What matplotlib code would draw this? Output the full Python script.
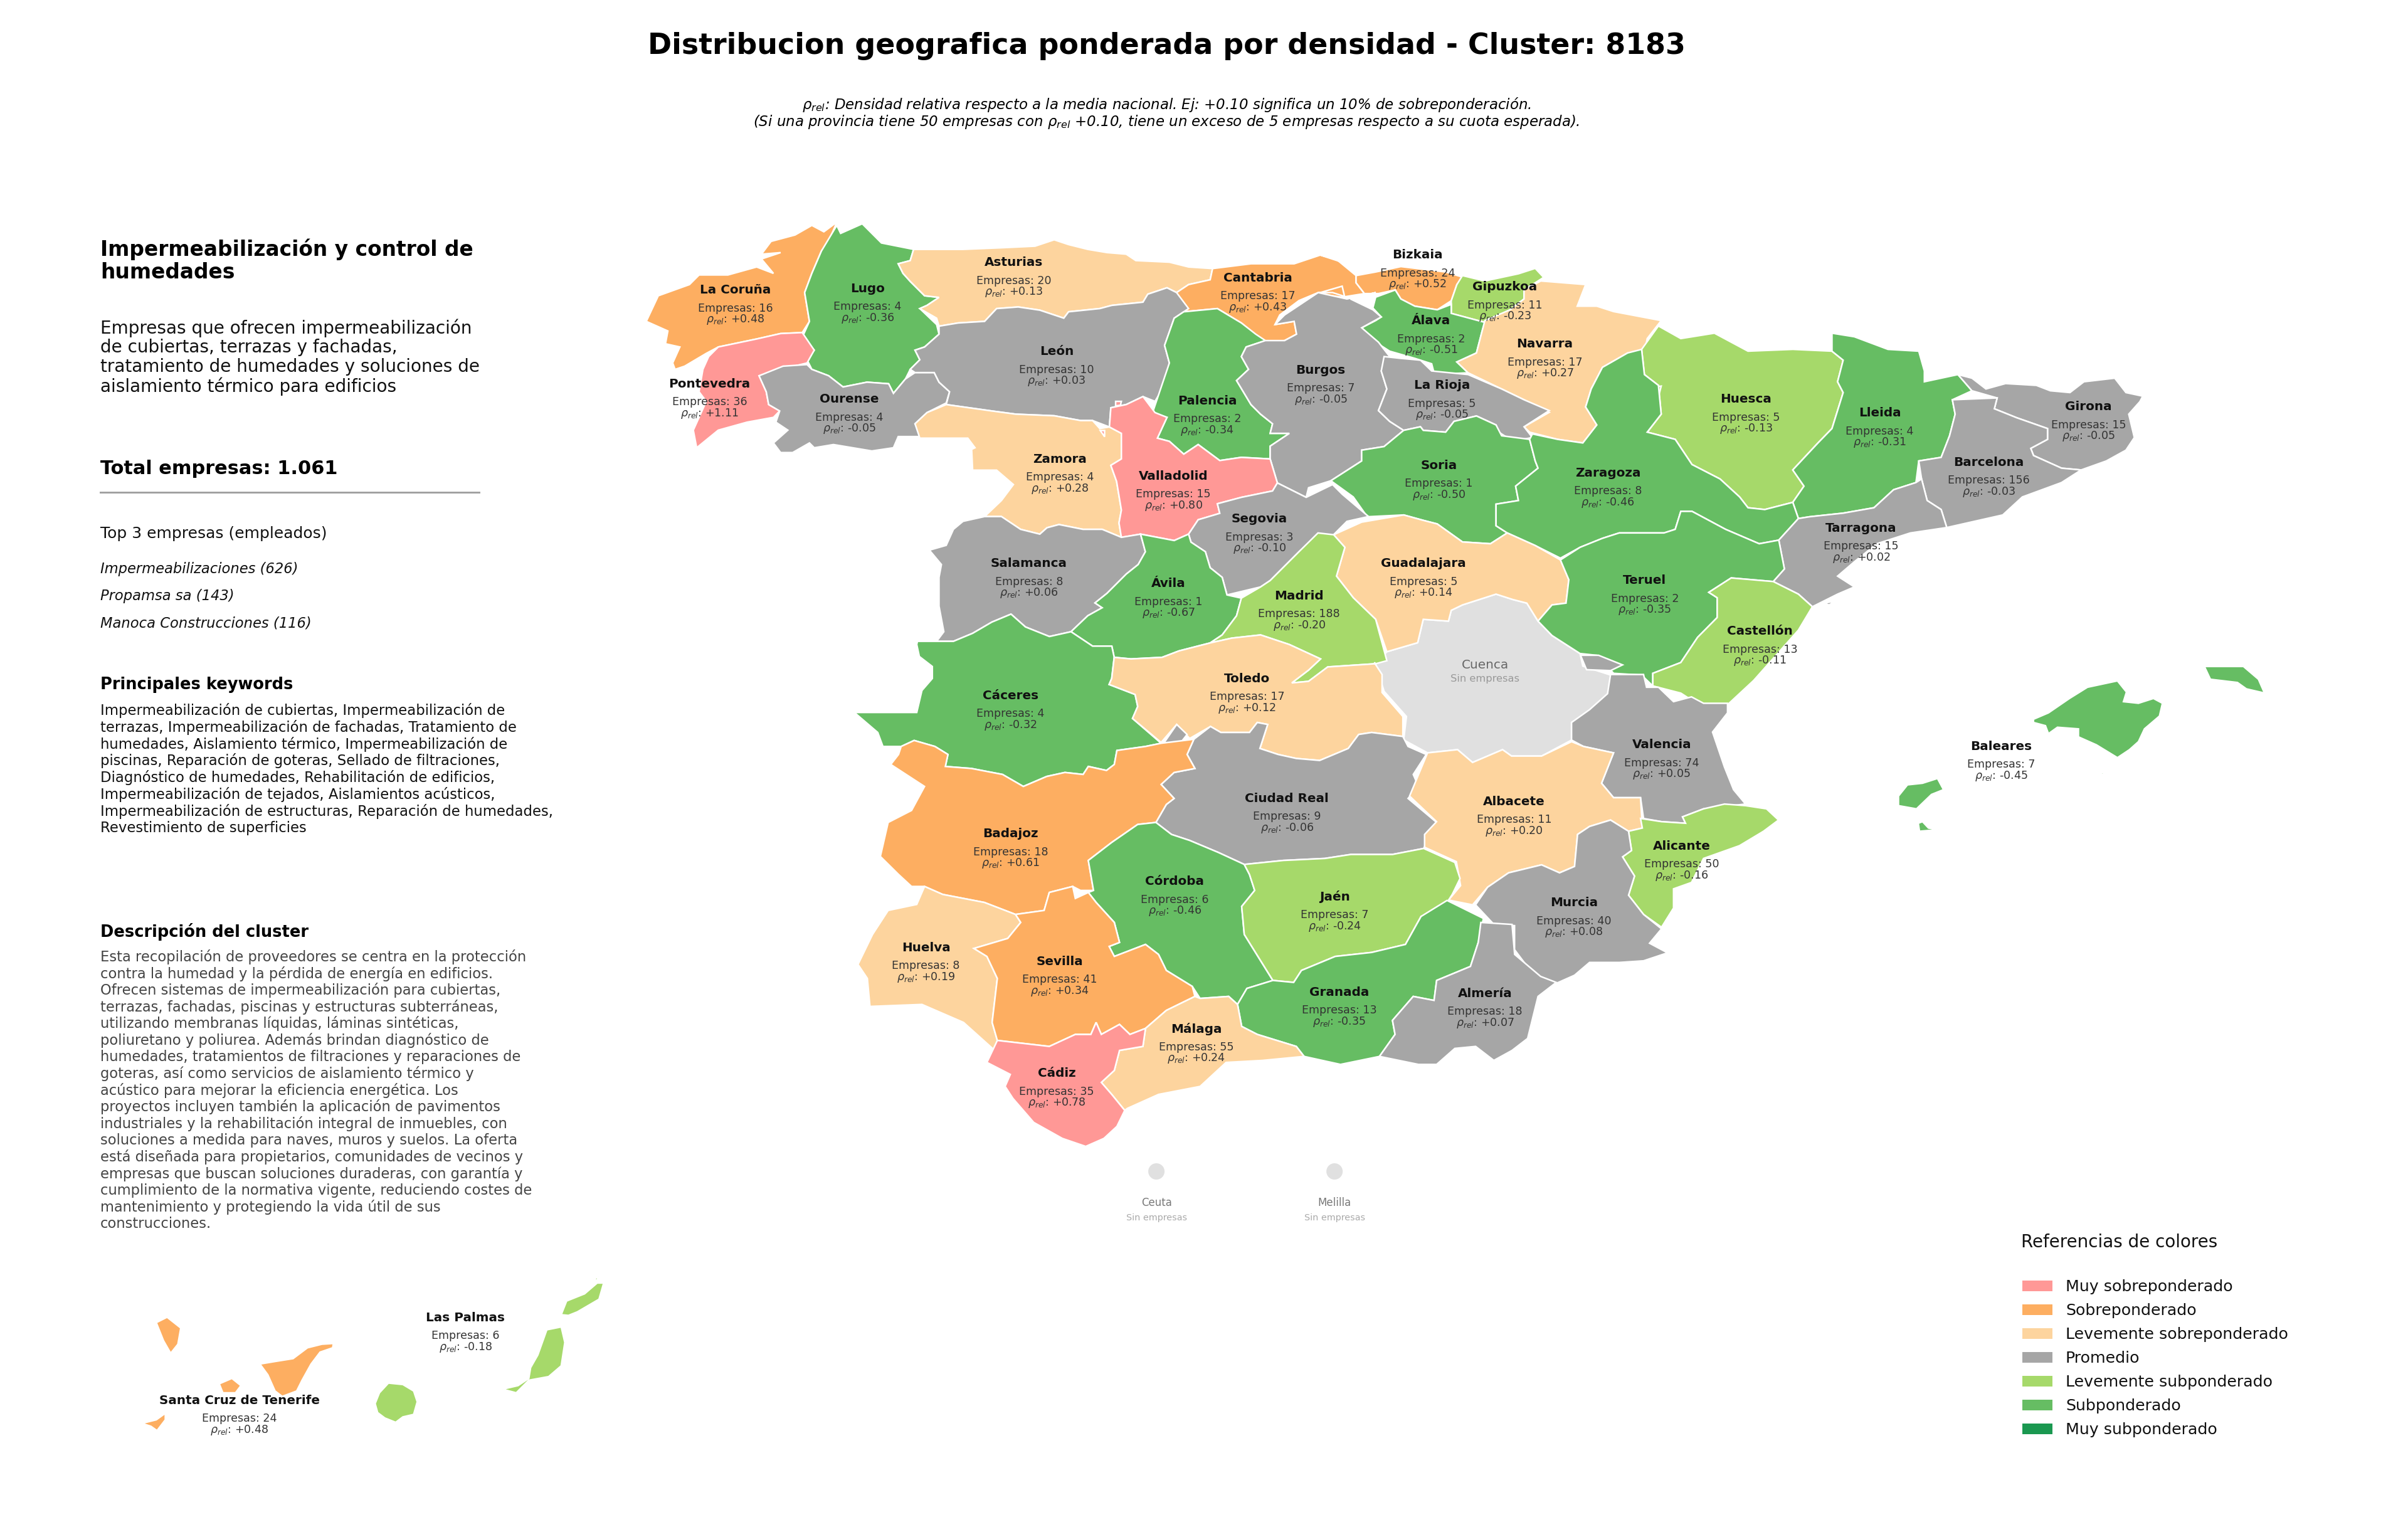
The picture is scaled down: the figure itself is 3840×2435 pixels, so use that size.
import numpy as np
import matplotlib
matplotlib.use("Agg")
import matplotlib.pyplot as plt
from matplotlib.patches import Circle, Rectangle

# digitised sheets: x0, y0, x scale, y scale
SHEETS = {
    "A": (1000, 340, 1200 / 1568, 800 / 1568),
    "B": (2100, 340, 1400 / 1568, 900 / 1568),
    "C": (1350, 1000, 1300 / 1568, 1000 / 1568),
    "D": (2200, 1000, 1500 / 1568, 800 / 1568),
    "E": (100, 1450, 900 / 1568, 900 / 1568),
}

provinces = ["La Coruña", "Lugo", "Asturias", "Cantabria", "Bizkaia", "Gipuzkoa", "Álava", "Navarra",
             "Pontevedra", "Ourense", "León", "Palencia", "Burgos", "La Rioja", "Huesca", "Lleida",
             "Girona", "Barcelona", "Zamora", "Valladolid", "Soria", "Zaragoza", "Tarragona", "Segovia",
             "Salamanca", "Guadalajara", "Ávila", "Madrid", "Teruel", "Castellón", "Cáceres", "Toledo",
             "Valencia", "Baleares", "Ciudad Real", "Albacete", "Alicante", "Badajoz", "Córdoba", "Jaén",
             "Murcia", "Huelva", "Sevilla", "Granada", "Almería", "Málaga", "Cádiz", "Las Palmas",
             "Santa Cruz de Tenerife"]
empresas = [16, 4, 20, 17, 24, 11, 2, 17, 36, 4, 10, 2, 7, 5, 5, 4, 15, 156, 4, 15, 1, 8, 15, 3, 8, 5, 1, 188,
            2, 13, 4, 17, 74, 7, 9, 11, 50, 18, 6, 7, 40, 8, 41, 13, 18, 55, 35, 6, 24]
rho_rel = [0.48, -0.36, 0.13, 0.43, 0.52, -0.23, -0.51, 0.27, 1.11, -0.05, 0.03, -0.34, -0.05, -0.05, -0.13,
           -0.31, -0.05, -0.03, 0.28, 0.80, -0.50, -0.46, 0.02, -0.10, 0.06, 0.14, -0.67, -0.20, -0.35, -0.11,
           -0.32, 0.12, 0.05, -0.45, -0.06, 0.20, -0.16, 0.61, -0.46, -0.24, 0.08, 0.19, 0.34, -0.35, 0.07,
           0.24, 0.78, -0.18, 0.48]
name_x = [479, 565, 660, 819, 923, 980, 932, 1006, 462, 553, 688, 786, 860, 939, 1137, 1224, 1360, 1295, 690,
          764, 937, 1047, 1212, 820, 670, 927, 761, 846, 1071, 1146, 658, 812, 1082, 1303, 838, 986, 1095, 658,
          765, 869, 1025, 603, 690, 872, 967, 779, 688, 303, 156]
name_y = [189, 188, 171, 181, 166, 187, 209, 224, 250, 260, 229, 261, 241, 251, 260, 269, 265, 301, 299, 310,
          303, 308, 344, 338, 367, 367, 380, 388, 378, 411, 453, 442, 485, 486, 520, 522, 551, 543, 574, 584,
          588, 617, 626, 646, 647, 670, 699, 858, 912]

legend_labels = ["Muy sobreponderado", "Sobreponderado", "Levemente sobreponderado", "Promedio",
                 "Levemente subponderado", "Subponderado", "Muy subponderado"]
legend_colors = ["#FF9896", "#FDAE61", "#FDD49E", "#A6A6A6", "#A6D96A", "#66BD63", "#1A9850"]

top_companies = ["Impermeabilizaciones (626)", "Propamsa sa (143)", "Manoca Construcciones (116)"]
desc_lines = ["Empresas que ofrecen impermeabilización", "de cubiertas, terrazas y fachadas,",
              "tratamiento de humedades y soluciones de", "aislamiento térmico para edificios"]
keyword_lines = ["Impermeabilización de cubiertas, Impermeabilización de",
                 "terrazas, Impermeabilización de fachadas, Tratamiento de",
                 "humedades, Aislamiento térmico, Impermeabilización de",
                 "piscinas, Reparación de goteras, Sellado de filtraciones,",
                 "Diagnóstico de humedades, Rehabilitación de edificios,",
                 "Impermeabilización de tejados, Aislamientos acústicos,",
                 "Impermeabilización de estructuras, Reparación de humedades,",
                 "Revestimiento de superficies"]
cluster_lines = ["Esta recopilación de proveedores se centra en la protección",
                 "contra la humedad y la pérdida de energía en edificios.",
                 "Ofrecen sistemas de impermeabilización para cubiertas,",
                 "terrazas, fachadas, piscinas y estructuras subterráneas,",
                 "utilizando membranas líquidas, láminas sintéticas,",
                 "poliuretano y poliurea. Además brindan diagnóstico de",
                 "humedades, tratamientos de filtraciones y reparaciones de",
                 "goteras, así como servicios de aislamiento térmico y",
                 "acústico para mejorar la eficiencia energética. Los",
                 "proyectos incluyen también la aplicación de pavimentos",
                 "industriales y la rehabilitación integral de inmuebles, con",
                 "soluciones a medida para naves, muros y suelos. La oferta",
                 "está diseñada para propietarios, comunidades de vecinos y",
                 "empresas que buscan soluciones duraderas, con garantía y",
                 "cumplimiento de la normativa vigente, reduciendo costes de",
                 "mantenimiento y protegiendo la vida útil de sus",
                 "construcciones."]

# province outlines, each part is a run of (sheet, points)
outlines = {
    "La Coruña": [[("A", [(437,30),(420,90),(405,120),(385,190),(370,250),(380,340),(365,375),(320,378),(270,395),(190,420),(165,440),(120,480),(100,490),(95,470),(110,420),(80,410),(85,370),(40,340),(65,260),(130,225),(150,195),(210,195),(270,170),(305,190),(280,145),(320,125),(280,130),(300,90),(350,70),(385,40),(410,60)])]],
    "Lugo": [[("A", [(437,40),(445,65),(490,35),(530,95),(597,115),(590,150),(565,160),(575,190),(590,215),(620,260),(650,265),(625,290),(610,300),(645,350),(650,380),(620,420),(600,430),(610,460),(590,490),(580,520),(555,565),(545,535),(500,530),(450,545),(420,510),(385,490),(375,460),(390,430),(365,390),(380,340),(370,250),(385,190),(405,120)])]],
    "Pontevedra": [[("A", [(365,375),(390,430),(375,470),(320,490),(275,510),(290,560),(295,600),(318,620),(305,640),(250,655),(190,680),(145,735),(138,680),(150,640),(165,590),(150,560),(158,490),(170,450),(190,420),(270,395),(320,378)])]],
    "Ourense": [[("A", [(275,510),(325,480),(375,475),(385,490),(420,510),(450,545),(500,530),(545,535),(555,565),(580,520),(600,500),(640,500),(650,530),(672,560),(665,595),(625,625),(600,660),(612,700),(565,700),(555,735),(510,745),(490,740),(430,725),(390,735),(380,720),(345,750),(320,750),(305,720),(335,680),(310,655),(318,620),(295,600),(290,560)])]],
    "Asturias": [[("A", [(597,115),(700,115),(780,110),(850,105),(890,85),(920,100),(960,115),(1000,125),(1040,130),(1060,150),(1130,155),(1170,170),(1220,175),(1215,210),(1170,225),(1145,250),(1125,235),(1085,255),(1075,280),(1010,290),(985,300),(920,310),(910,330),(860,305),(815,295),(770,300),(745,340),(690,345),(650,355),(645,330),(610,300),(625,290),(650,265),(620,260),(590,215),(575,190),(565,160),(590,150)])]],
    "León": [[("A", [(650,355),(690,345),(745,340),(770,300),(815,295),(860,305),(910,330),(920,310),(985,300),(1010,290),(1075,280),(1085,255),(1125,235),(1145,250),(1170,300),(1140,330),(1120,415),(1130,470),(1120,540),(1100,590),(1075,575),(1040,600),(1008,610),(1005,670),(970,650),(945,650),(890,635),(810,630),(760,620),(665,600),(672,560),(650,530),(640,500),(600,500),(590,490),(610,460),(600,430),(620,420),(650,380)])]],
    "Cantabria": [[("A", [(1220,175),(1300,160),(1390,160),(1450,130),(1500,160)]), ("B", [(0,115),(35,130),(70,175),(70,195),(85,225),(45,235),(0,225)]), ("A", [(1490,230),(1495,262),(1470,250),(1440,250),(1400,275),(1360,320),(1350,350),(1390,340),(1395,380),(1370,400),(1320,405),(1300,370),(1280,345),(1230,300),(1160,310),(1145,250),(1170,225),(1215,210)])]],
    "Palencia": [[("A", [(1160,310),(1230,300),(1280,345),(1310,380),(1330,400),(1290,420),(1280,450),(1295,490),(1270,525),(1300,600),(1320,630),(1345,660),(1340,690),(1380,690),(1340,730),(1340,770),(1280,765),(1235,775),(1190,725),(1160,755),(1130,715),(1105,705),(1125,640),(1095,625),(1130,470),(1120,415),(1140,330)])]],
    "Burgos": [[("A", [(1290,420),(1330,400),(1370,400),(1395,380),(1390,340),(1350,350),(1370,320),(1440,250),(1500,270),(1560,250)]), ("B", [(60,240),(100,270),(115,290),(80,320),(110,360),(130,400),(115,440),(125,490),(110,550),(130,580),(155,605),(120,650),(80,660),(80,690),(25,745)]), ("A", [(1420,860),(1415,890),(1355,845),(1340,770),(1340,730),(1380,690),(1340,690),(1345,660),(1320,630),(1300,600),(1270,525),(1295,490),(1280,450)])]],
    "Zamora": [[("A", [(665,600),(760,620),(810,630),(890,635),(945,650),(970,650),(985,675),(1005,670),(1030,690),(1030,770),(1008,790),(1020,840),(1030,930),(1025,970),(1030,1015),(990,990),(950,990),(900,975),(875,985),(860,1005),(820,990),(780,950),(745,950),(780,900),(805,850),(770,805),(720,805),(718,740),(725,735),(710,705),(610,705),(600,660),(625,625)])]],
    "Valladolid": [[("A", [(1008,610),(1040,600),(1075,575),(1100,625),(1125,640),(1105,705),(1130,715),(1160,755),(1190,725),(1235,775),(1280,765),(1340,770),(1355,845),(1345,870),(1280,890),(1230,910),(1235,940),(1190,960),(1170,1005),(1140,1025),(1070,1005),(1030,1015),(1025,970),(1030,930),(1020,840),(1008,790),(1030,770),(1030,690),(1005,670)])],
                   [("A", [(1018,590),(1030,590),(1028,602),(1018,604)])],
                   [("A", [(985,680),(995,680),(995,700)])]],
    "Segovia": [[("A", [(1355,845),(1415,890),(1470,850),(1490,880),(1545,950),(1500,965),(1470,1010),(1440,1005),(1400,1060),(1340,1150),(1320,1170),(1250,1195),(1240,1140),(1215,1110),(1205,1060),(1175,1030),(1170,1005),(1190,960),(1235,940),(1230,910),(1280,890),(1345,870)])]],
    "Salamanca": [[("A", [(745,950),(780,950),(820,990),(860,1005),(875,985),(900,975),(950,990),(990,990),(1030,1015),(1070,1005),(1080,1060),(1065,1100),(1040,1130),(1000,1190),(975,1220),(990,1235),(960,1260),(925,1310),(880,1325),(830,1295),(800,1255),(760,1280),(720,1315),(680,1340),(645,1340),(660,1310),(650,1230),(650,1140),(655,1100),(630,1055),(665,1040),(680,990),(700,965)])]],
    "Ávila": [[("A", [(1070,1005),(1140,1025),(1170,1005),(1175,1030),(1205,1060),(1215,1110),(1240,1140),(1250,1195),(1280,1205),(1270,1260),(1240,1320),(1215,1345),(1150,1370),(1115,1390),(1050,1395),(1015,1390),(1010,1355),(970,1355),(925,1310),(960,1260),(990,1235),(975,1220),(1000,1190),(1040,1130),(1065,1100),(1080,1060)])]],
    "Madrid": [[("B", [(2,890),(30,895),(50,930),(35,1010),(65,1070),(105,1130),(125,1245)]), ("A", [(1560,1410),(1460,1420),(1420,1465),(1385,1470),(1420,1430),(1445,1395),(1380,1350),(1320,1320),(1260,1330),(1215,1345),(1240,1320),(1270,1260),(1280,1205),(1320,1170),(1340,1150),(1400,1060)])]],
    "Cáceres": [[("A", [(605,1340),(645,1340),(680,1340),(720,1315),(760,1280),(800,1255),(830,1295),(880,1325),(925,1310),(970,1355),(1010,1355),(1015,1390)]), ("C", [(510,130),(505,145),(555,170),(560,200),(550,230),(605,292),(575,300),(520,310),(515,345),(500,360),(465,350),(455,370),(420,365),(385,375),(340,400),(300,370),(240,355),(190,350),(195,320),(170,300),(130,285),(105,300),(70,300),(60,265),(15,215),(80,215),(135,215),(145,160),(165,130),(165,100),(140,75),(135,45)])]],
    "Toledo": [[("A", [(1015,1390),(1050,1395),(1115,1390),(1150,1370),(1215,1345),(1260,1330),(1320,1320),(1380,1350),(1445,1395),(1420,1430),(1385,1470),(1420,1465),(1460,1420),(1560,1410)]), ("C", [(1015,90),(1030,120),(1030,165),(1070,225),(1070,275),(1010,265),(985,270),(965,305),(910,335),(865,330),(830,320),(795,305),(810,245),(790,240),(775,265),(720,265),(700,250),(660,280),(635,245),(605,290),(550,230),(560,200),(555,170),(505,145),(510,130)])]],
    "Badajoz": [[("C", [(105,300),(130,285),(170,300),(195,320),(190,350),(240,355),(300,370),(340,400),(385,375),(420,365),(455,370),(465,350),(500,360),(515,345),(520,310),(575,300),(605,292),(668,282),(655,320),(670,355),(630,365),(605,395),(630,430),(615,445),(595,490),(560,495),(510,540),(465,585),(475,660),(450,660),(435,650),(390,665),(380,710),(325,720),(265,690),(185,670),(150,650),(125,650),(100,620),(65,575),(80,490),(125,460),(150,400),(85,345),(100,320)])]],
    "Ciudad Real": [[("C", [(668,282),(700,250),(720,265),(775,265),(790,240),(810,245),(795,305),(830,320),(865,330),(910,335),(965,305),(985,270),(1010,265),(1070,275),(1080,300),(1115,320),(1090,370),(1100,400),(1080,430),(1135,490),(1110,555),(1050,570),(970,570),(920,580),(840,585),(765,595),(715,565),(660,535),(625,520),(595,490),(615,445),(630,430),(605,395),(630,365),(670,355),(655,320)])],
                    [("C", [(635,245),(655,270),(640,295),(610,292)])]],
    "Soria": [[("B", [(25,745),(80,690),(80,660),(120,650),(155,605),(185,595),(190,605),(230,610),(245,580),(285,565),(320,590),(330,620),(380,630),(390,690),(395,710),(355,760),(360,800),(320,810),(320,870),(340,890),(310,920),(260,915),(215,865),(190,855),(155,840),(90,845),(65,790)])]],
    "La Rioja": [[("B", [(120,400),(150,405),(185,410),(205,440),(270,450),(330,490),(370,520),(415,550),(390,575),(370,595),(385,625),(350,635),(325,610),(320,590),(285,565),(245,580),(230,610),(190,605),(185,595),(155,605),(130,580),(110,550),(125,490),(115,440)])]],
    "Navarra": [[("B", [(400,190),(480,200),(465,260),(500,260),(530,275),(615,300),(590,350),(585,390),(555,390),(510,430),(490,490),(480,540),(500,590),(475,640),(430,630),(380,610),(370,595),(415,555),(370,520),(330,490),(270,445),(250,415),(285,390),(295,330),(300,300),(345,270),(370,240),(370,215)])]],
    "Gipuzkoa": [[("B", [(260,175),(300,190),(360,170),(390,155),(405,180),(370,215),(370,240),(345,270),(300,305),(240,280),(240,245),(250,200)])]],
    "Bizkaia": [[("B", [(70,175),(105,165),(150,150),(230,165),(262,180),(250,200),(240,245),(215,270),(175,260),(150,240),(140,215),(110,225),(85,225),(70,195)])]],
    "Álava": [[("B", [(105,235),(140,215),(150,240),(175,260),(215,270),(240,255),(240,280),(300,305),(295,330),(285,390),(250,415),(270,445),(210,450),(205,420),(175,405),(130,385),(110,365),(80,320),(105,300),(115,290),(100,265)])]],
    "Zaragoza": [[("B", [(580,380),(585,450),(610,480),(615,560),(590,610),(640,630),(670,700),(720,740),(755,790),(770,820),(800,825),(850,805),(860,850),(825,910),(790,920),(730,880),(670,830),(650,830),(640,880),(620,890),(540,890),(510,905),(470,930),(435,960),(390,925),(340,890),(320,870),(320,810),(360,800),(355,760),(395,710),(390,690),(380,630),(385,615),(430,630),(475,640),(500,590),(480,540),(490,490),(510,430),(555,390)])]],
    "Huesca": [[("B", [(610,315),(650,350),(710,335),(770,385),(850,380),(920,385),(940,410),(930,470),(940,500),(920,600),(895,640),(850,715),(870,760),(850,805),(800,825),(770,820),(755,790),(720,740),(670,700),(640,630),(590,610),(615,560),(610,480),(585,450),(580,380)])],
               [("B", [(585,525),(600,485),(615,482),(608,525)])],
               [("B", [(535,465),(545,450),(553,468)])]],
    "Lleida": [[("B", [(920,335),(960,345),(1020,380),(1075,385),(1085,440),(1085,470),(1145,450),(1170,495),(1135,520),(1140,560),(1130,620),(1115,680),(1075,690),(1070,750),(1030,770),(995,820),(940,835),(880,845),(860,850),(850,805),(870,760),(850,715),(895,640),(920,600),(940,500),(930,470),(940,410),(920,385)])]],
    "Girona": [[("B", [(1145,450),(1170,495),(1215,515),(1210,545),(1250,570),(1305,600),(1305,630),(1275,655),(1280,675),(1330,710),(1365,715),(1410,690),(1445,660),(1460,625),(1450,560),(1470,525),(1475,510),(1445,500),(1425,460),(1370,470),(1345,500),(1310,495),(1285,480),(1230,475),(1195,490),(1170,460)])]],
    "Barcelona": [[("B", [(1135,520),(1215,515),(1210,545),(1250,570),(1305,600),(1305,630),(1275,655),(1280,675),(1330,710),(1365,715),(1330,750),(1260,790),(1225,840),(1125,875),(1115,825),(1090,800),(1080,740),(1075,690),(1115,680),(1130,620),(1140,560)])]],
    "Tarragona": [[("B", [(860,850),(880,845),(940,835),(995,820),(1030,770),(1070,750),(1080,740),(1090,800),(1115,825),(1125,875),(1060,890),(1000,920),(960,970),(930,1010),(960,1040),(930,1060),(885,1095),(860,1060),(815,1025),(835,990),(825,910)])],
                  [("B", [(905,1085),(925,1080),(915,1090)])]],
    "Teruel": [[("B", [(470,930),(510,905),(540,890),(620,890),(640,880),(650,830),(670,830),(730,880),(790,920),(825,910),(835,990),(815,1025),(740,1015),(700,1055),(715,1070),(715,1125),(680,1180),(650,1250),(600,1280),(600,1315),(580,1285),(530,1280),(500,1230),(470,1225),(420,1175),(395,1135),(420,1090),(445,1085),(450,1020),(435,965)])]],
    "Castellón": [[("B", [(740,1015),(815,1025),(860,1060),(885,1095),(860,1160),(820,1230),(780,1300),(735,1365),(680,1365),(650,1335),(600,1315),(600,1280),(650,1250),(680,1180),(715,1125),(715,1070),(700,1055)])]],
    "Guadalajara": [[("B", [(30,895),(80,860),(155,840),(190,855),(215,865),(260,915),(310,920),(340,890),(390,925),(435,965),(450,1020),(445,1085),(420,1090),(395,1135),(375,1085),(350,1075),(320,1060),(260,1090),(240,1105),(235,1135),(190,1130),(180,1195),(125,1220),(105,1130),(65,1070),(35,1010),(50,930)])]],
    "Valencia": [[("D", [(385,150),(440,150),(445,190),(465,190),(490,235),(520,220),(540,240),(580,240),(580,270),(555,330),(575,440),(590,510),(610,555),(540,570),(505,595),(510,615),(470,610),(440,600),(435,535),(390,535),(370,490),(390,395),(340,375),(320,355),(320,300),(350,260),(380,210)])],
                 [("D", [(335,90),(365,90),(405,120),(385,138),(345,135)])]],
    "Albacete": [[("D", [(320,360),(340,375),(390,395),(370,490),(390,535),(435,535),(438,630),(415,640),(385,605),(350,625),(330,650),(325,750),(300,770),(270,745),(215,770),(180,815),(155,870),(115,855),(135,810),(128,735),(75,690),(75,650),(95,610),(50,530),(80,395),(130,385),(155,425),(205,385),(220,405),(270,405)])]],
    "Murcia": [[("D", [(350,625),(385,605),(415,640),(420,700),(405,720),(425,780),(415,840),(440,900),(470,945),(450,990),(480,1020),(440,1045),(400,1050),(350,1050),(325,1090),(295,1115),(255,1085),(225,1010),(225,935),(190,930),(160,870),(180,815),(215,770),(270,745),(300,770),(325,750),(330,650)])]],
    "Almería": [[("C", [(1220,740),(1280,745),(1285,820),(1335,875),(1365,890),(1330,925),(1310,1030),(1280,1060),(1245,1085),(1210,1050),(1170,1055),(1135,1095),(1100,1095),(1025,1075),(1055,1020),(1050,985),(1090,925),(1130,935),(1135,885),(1200,850),(1215,790)])]],
    "Alicante": [[("D", [(435,600),(470,610),(510,615),(505,595),(540,570),(575,555),(610,560),(645,570),(665,605),(640,640),(600,685),(540,725),(520,800),(490,820),(490,880),(470,940),(440,900),(415,840),(425,780),(405,720),(420,700),(415,640),(438,630)])]],
    "Jaén": [[("C", [(765,595),(840,585),(920,580),(970,570),(1050,570),(1110,555),(1170,590),(1180,630),(1165,670),(1145,710),(1105,725),(1075,795),(1010,815),(940,825),(875,860),(860,890),(820,885),(765,770),(760,700),(785,660),(775,620)])]],
    "Granada": [[("C", [(1155,685),(1225,730),(1215,790),(1200,850),(1135,885),(1130,935),(1090,925),(1050,985),(1055,1020),(1025,1075),(950,1095),(880,1075),(865,1050),(790,1020),(760,1000),(752,945),(770,905),(820,885),(860,890),(875,860),(940,825),(1010,815),(1075,795),(1105,725)])]],
    "Córdoba": [[("C", [(595,490),(625,520),(660,535),(715,565),(765,595),(775,620),(785,660),(760,700),(765,770),(820,885),(770,905),(752,945),(735,925),(680,930),(665,900),(615,860),(600,820),(575,795),(515,825),(505,800),(525,790),(515,740),(480,690),(465,665),(475,660),(465,585),(510,540),(560,495)])]],
    "Sevilla": [[("C", [(325,720),(380,710),(390,665),(435,650),(440,680),(465,665),(480,690),(515,740),(525,790),(505,800),(515,825),(575,795),(600,820),(615,860),(665,900),(670,925),(615,960),(575,1005),(545,1020),(525,995),(490,1020),(480,990),(470,1020),(440,1020),(390,1050),(290,1035),(280,990),(290,880),(270,825),(245,805),(310,780),(335,740)])]],
    "Huelva": [[("C", [(150,650),(185,670),(265,690),(325,720),(335,740),(310,780),(245,805),(270,825),(290,880),(280,990),(290,1035),(285,1060),(225,990),(145,945),(45,950),(40,880),(22,845),(50,770),(80,710),(135,695)])]],
    "Cádiz": [[("C", [(290,1035),(390,1050),(440,1020),(470,1020),(480,990),(490,1020),(525,995),(545,1020),(575,1005),(570,1050),(525,1060),(515,1110),(490,1140),(510,1170),(535,1210),(520,1250),(495,1280),(460,1300),(415,1280),(360,1240),(320,1180),(305,1150),(315,1120),(270,1090)])]],
    "Málaga": [[("C", [(670,925),(680,930),(735,925),(752,945),(760,1000),(790,1020),(865,1050),(880,1075),(800,1085),(730,1090),(680,1150),(600,1170),(540,1205),(535,1210),(510,1170),(490,1140),(515,1110),(525,1060),(570,1050),(575,1005),(615,960)])]],
    "Baleares": [[("D", [(1090,290),(1115,270),(1150,225),(1180,190),(1230,170),(1245,205),(1240,235),(1265,240),(1290,225),(1305,240),(1300,280),(1275,320),(1265,360),(1250,385),(1230,410),(1195,370),(1165,345),(1165,320),(1130,315),(1115,335),(1110,310),(1090,300)])],
                 [("D", [(1375,125),(1440,125),(1465,165),(1475,208),(1445,195),(1430,175),(1385,165)])],
                 [("D", [(865,530),(880,495),(905,490),(930,475),(940,510),(920,525),(895,570),(865,560)])],
                 [("D", [(898,615),(905,610),(915,630),(932,635),(900,640)])],
                 [("D", [(1203,458),(1208,458),(1205,463)])]],
    "Santa Cruz de Tenerife": [[("E", [(260,1150),(290,1135),(328,1165),(320,1210),(300,1235),(280,1200)])],
                               [("E", [(435,1320),(470,1305),(495,1325),(480,1345),(445,1345)])],
                               [("E", [(548,1265),(590,1258),(640,1250),(680,1220),(720,1210),(752,1208),(750,1220),(715,1232),(690,1265),(665,1310),(650,1340),(610,1355),(590,1340),(570,1295)])],
                               [("E", [(220,1430),(260,1420),(285,1402),(285,1420),(262,1450),(245,1438)])]],
    "Las Palmas": [[("E", [(868,1375),(880,1345),(905,1318),(945,1322),(975,1340),(985,1370),(975,1405),(945,1412),(925,1427),(895,1415),(875,1400)])],
                   [("E", [(1222,1335),(1265,1325),(1295,1305),(1300,1275),(1320,1240),(1345,1170),(1385,1162),(1395,1205),(1385,1270),(1350,1300),(1295,1310),(1260,1345)])],
                   [("E", [(1385,1128),(1400,1090),(1450,1070),(1485,1040),(1503,1040),(1490,1085),(1430,1120),(1405,1130)])],
                   [("E", [(1475,1030),(1488,1022),(1485,1032)])]],
}
cuenca_outline = [("B", [(240,1105),(260,1090),(320,1060),(350,1075),(375,1085),(395,1135),(420,1175),(470,1225),(475,1260),(525,1285),(520,1340),(490,1385)]),
                  ("D", [(320,300),(320,355),(270,405),(220,405),(205,385),(155,425),(130,385),(80,395)]),
                  ("B", [(155,1465),(160,1400),(120,1330),(105,1255),(125,1220),(180,1195),(190,1130),(235,1135)])]


def to_pixels(part):
    runs = []
    for name, pts in part:
        x0, y0, sx, sy = SHEETS[name]
        runs.append(np.array(pts, dtype=float) * [sx, sy] + [x0, y0])
    return np.vstack(runs)


def color_for(value):
    if value >= 0.75:
        return legend_colors[0]
    if value >= 0.30:
        return legend_colors[1]
    if value >= 0.10:
        return legend_colors[2]
    if value >= -0.105:
        return legend_colors[3]
    if value >= -0.30:
        return legend_colors[4]
    if value >= -0.75:
        return legend_colors[5]
    return legend_colors[6]


fig = plt.figure(figsize=(12.8, 8.12), dpi=300, facecolor="white")
ax = fig.add_axes([0, 0, 1, 1])
ax.set_xlim(0, 3840)
ax.set_ylim(2436, 0)
ax.axis("off")

# map
xy = to_pixels(cuenca_outline)
ax.fill(xy[:, 0], xy[:, 1], facecolor="#E0E0E0", edgecolor="white", linewidth=0.6)
for name, value in zip(provinces, rho_rel):
    for part in outlines[name]:
        xy = to_pixels(part)
        ax.fill(xy[:, 0], xy[:, 1], facecolor=color_for(value), edgecolor="white", linewidth=0.6)

# province labels
SCALE = 3840 / 1568
for name, n, value, x, y in zip(provinces, empresas, rho_rel, name_x, name_y):
    px, py = x * SCALE, y * SCALE
    ax.text(px, py, name, ha="center", va="center", fontsize=4.8, fontweight="bold", color="#111111")
    ax.text(px, py + 29, f"Empresas: {n}", ha="center", va="center", fontsize=4.2, color="#333333")
    ax.text(px, py + 47, f"$\\rho_{{rel}}$: {value:+.2f}", ha="center", va="center", fontsize=4.2, color="#333333")

# provinces without companies
ax.text(967 * SCALE, 433 * SCALE, "Cuenca", ha="center", va="center", fontsize=4.8, color="#666666")
ax.text(967 * SCALE, 442 * SCALE, "Sin empresas", ha="center", va="center", fontsize=3.9, color="#999999")
for name, x in zip(["Ceuta", "Melilla"], [753, 869]):
    ax.add_patch(Circle((x * SCALE, 1869), 13, facecolor="#E0E0E0", edgecolor="none"))
    ax.text(x * SCALE, 783 * SCALE, name, ha="center", va="center", fontsize=4.0, color="#777777")
    ax.text(x * SCALE, 793 * SCALE, "Sin empresas", ha="center", va="center", fontsize=3.45, color="#aaaaaa")

# header
ax.text(1860, 73, "Distribucion geografica ponderada por densidad - Cluster: 8183", ha="center", va="center",
        fontsize=11.0, fontweight="bold", color="black")
ax.text(1860, 167, "$\\rho_{rel}$: Densidad relativa respecto a la media nacional. Ej: +0.10 significa un 10% de sobreponderación.",
        ha="center", va="center", fontsize=5.5, style="italic", color="black")
ax.text(1860, 195, "(Si una provincia tiene 50 empresas con $\\rho_{rel}$ +0.10, tiene un exceso de 5 empresas respecto a su cuota esperada).",
        ha="center", va="center", fontsize=5.5, style="italic", color="black")

# left column
LEFT = 160
ax.text(LEFT, 398, "Impermeabilización y control de", va="center", fontsize=7.9, fontweight="bold")
ax.text(LEFT, 435, "humedades", va="center", fontsize=7.9, fontweight="bold")
for i, line in enumerate(desc_lines):
    ax.text(LEFT, 523 + i * 31, line, va="center", fontsize=6.7, color="#111111")
ax.text(LEFT, 747, "Total empresas: 1.061", va="center", fontsize=7.3, fontweight="bold")
ax.plot([160, 764], [786, 786], color="#A0A0A0", linewidth=0.7)
ax.text(LEFT, 851, "Top 3 empresas (empleados)", va="center", fontsize=6.0, color="#111111")
for i, line in enumerate(top_companies):
    ax.text(LEFT, 908 + i * 43, line, va="center", fontsize=5.45, style="italic", color="#111111")
ax.text(LEFT, 1092, "Principales keywords", va="center", fontsize=6.2, fontweight="bold")
for i, line in enumerate(keyword_lines):
    ax.text(LEFT, 1133 + i * 26.8, line, va="center", fontsize=5.48, color="#111111")
ax.text(LEFT, 1486, "Descripción del cluster", va="center", fontsize=6.2, fontweight="bold")
for i, line in enumerate(cluster_lines):
    ax.text(LEFT, 1526 + i * 26.6, line, va="center", fontsize=5.45, color="#444444")

# legend
ax.text(1316 * SCALE, 809 * SCALE, "Referencias de colores", va="center", fontsize=6.67, color="#111111")
for i, (label, color) in enumerate(zip(legend_labels, legend_colors)):
    y = (838 + i * 15.5) * SCALE
    ax.add_patch(Rectangle((1317 * SCALE, y - 9), 48, 17, facecolor=color, edgecolor="none"))
    ax.text(1345 * SCALE, y, label, va="center", fontsize=6.07, color="#111111")

fig.savefig("out.png", dpi=300)
